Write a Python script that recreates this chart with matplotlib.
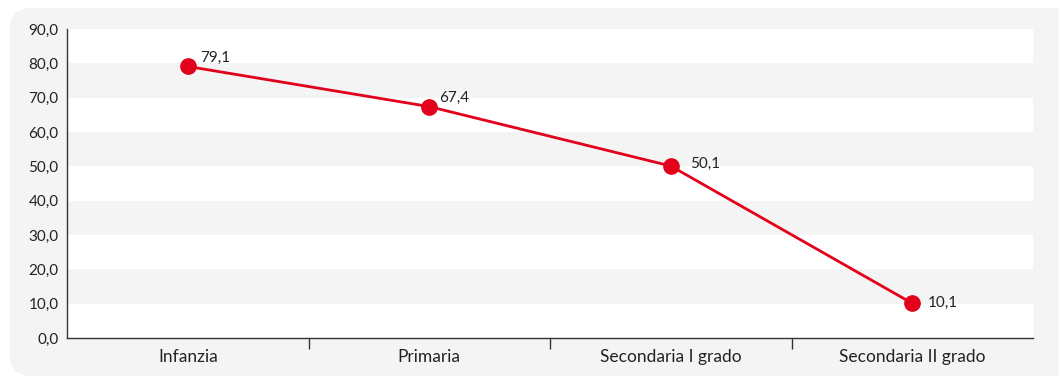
import matplotlib
matplotlib.use("Agg")
import matplotlib.pyplot as plt
from matplotlib.patches import FancyBboxPatch
from matplotlib.ticker import FixedLocator, NullFormatter

categories = ["Infanzia", "Primaria", "Secondaria I grado", "Secondaria II grado"]
values = [79.1, 67.4, 50.1, 10.1]
y_ticks = [0, 10, 20, 30, 40, 50, 60, 70, 80, 90]

plt.rcParams["font.family"] = ["Lato", "DejaVu Sans"]

W, H = 1059, 377
fig = plt.figure(figsize=(W / 100, H / 100), dpi=100)
fig.patch.set_facecolor("white")

# rounded light-grey panel behind the chart
panel = FancyBboxPatch((10 / W, 1 / H), 1.1, (H - 9) / H,
                       boxstyle="round,pad=0,rounding_size=0.02",
                       transform=fig.transFigure, facecolor="#f4f4f4",
                       edgecolor="none", zorder=-5, mutation_aspect=W / H)
fig.patches.append(panel)

ax = fig.add_axes([67 / W, 1 - 338 / H, (1033 - 67) / W, (338 - 29) / H])
ax.set_zorder(1)
ax.set_facecolor("white")
ax.set_xlim(-0.5, len(categories) - 0.5)
ax.set_ylim(0, 90)

# alternating horizontal bands
for lo in y_ticks[1:-1:2]:
    ax.axhspan(lo, lo + 10, color="#f4f4f4", lw=0, zorder=0)

x = list(range(len(categories)))
red = "#e2001a"
ax.plot(x, values, color=red, lw=2, marker="o", ms=11, zorder=3, clip_on=False)

# value labels, nudged right of each marker
offsets = [(9, 6), (7, 6), (14, 1.5), (11, 0)]
for xi, v, (dx, dy) in zip(x, values, offsets):
    ax.annotate(f"{v:.1f}".replace(".", ","), (xi, v), xytext=(dx, dy),
                textcoords="offset points", ha="left", va="center",
                fontsize=11, color="#222222", zorder=4)

ax.set_yticks(y_ticks)
ax.set_yticklabels([f"{t:.1f}".replace(".", ",") for t in y_ticks], fontsize=11, color="#222222")
ax.tick_params(axis="y", length=0, pad=6)

ax.set_xticks(x)
ax.set_xticklabels(categories, fontsize=12.5, color="#222222")
ax.tick_params(axis="x", which="major", length=0, pad=8)
ax.xaxis.set_minor_locator(FixedLocator([0.5, 1.5, 2.5]))
ax.xaxis.set_minor_formatter(NullFormatter())
ax.tick_params(axis="x", which="minor", length=8, width=1, color="#333333", direction="out")

for s in ["top", "right"]:
    ax.spines[s].set_visible(False)
for s in ["left", "bottom"]:
    ax.spines[s].set_color("#333333")
    ax.spines[s].set_linewidth(1)

fig.savefig("out.png", dpi=100)
